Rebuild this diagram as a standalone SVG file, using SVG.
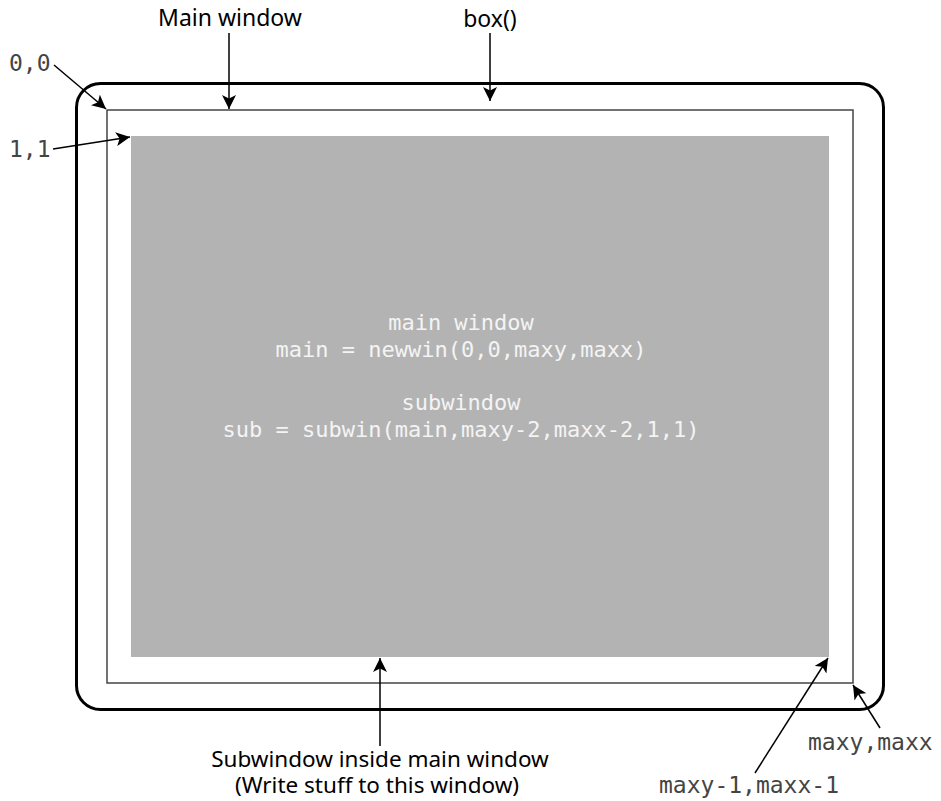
<svg xmlns="http://www.w3.org/2000/svg" width="941" height="801" viewBox="0 0 941 801">
<defs>
<marker id="ah" viewBox="0 0 10 10" refX="10" refY="5" markerWidth="14" markerHeight="14" markerUnits="userSpaceOnUse" orient="auto">
<path d="M0,0 L10,5 L0,10 L2.5,5 z" fill="#000"/>
</marker>
<style>
.lbl{font-family:"Noto Sans","Open Sans",sans-serif;font-size:23px;fill:#000}
.lbl2{font-family:"Noto Sans","Open Sans",sans-serif;font-size:22.5px;fill:#000}
.mono{font-family:"DejaVu Sans Mono","Liberation Mono",monospace;font-size:23px;fill:#444}
.code{font-family:"DejaVu Sans Mono","Liberation Mono",monospace;font-size:22px;fill:#f4f4f4}
.conn{stroke:#000;stroke-width:1.5;fill:none;marker-end:url(#ah)}
</style>
</defs>
<rect width="941" height="801" fill="#fff"/>
<g id="box">
<rect x="76.5" y="83.5" width="807" height="626" rx="24" ry="24" fill="none" stroke="#000" stroke-width="3"/>
</g>
<g id="main-window">
<rect x="107" y="110" width="746" height="573" fill="none" stroke="#444" stroke-width="1.5"/>
</g>
<g id="subwindow">
<rect x="131" y="136" width="698" height="521" fill="#b3b3b3"/>
<text class="code" text-anchor="middle" x="461" y="330">main window</text>
<text class="code" text-anchor="middle" x="461" y="357">main = newwin(0,0,maxy,maxx)</text>
<text class="code" text-anchor="middle" x="461" y="410">subwindow</text>
<text class="code" text-anchor="middle" x="461" y="437">sub = subwin(main,maxy-2,maxx-2,1,1)</text>
</g>
<g id="labels">
<text class="lbl" text-anchor="middle" x="230" y="26">Main window</text>
<text class="lbl" text-anchor="middle" x="490" y="27">box()</text>
<text class="mono" x="9" y="71">0,0</text>
<text class="mono" x="9" y="157">1,1</text>
<text class="mono" x="808" y="750">maxy,maxx</text>
<text class="mono" x="659" y="793">maxy-1,maxx-1</text>
<text class="lbl2" text-anchor="middle"><tspan x="380" y="767">Subwindow inside main window</tspan><tspan x="377" y="793">(Write stuff to this window)</tspan></text>
</g>
<g id="connectors">
<line class="conn" x1="54" y1="65" x2="106" y2="109"/>
<line class="conn" x1="53" y1="149" x2="130" y2="137"/>
<line class="conn" x1="229" y1="33" x2="229" y2="109"/>
<line class="conn" x1="490" y1="33" x2="490" y2="101"/>
<line class="conn" x1="380" y1="746" x2="380" y2="658"/>
<line class="conn" x1="880" y1="728" x2="853" y2="685"/>
<line class="conn" x1="755" y1="773" x2="828" y2="658"/>
</g>
</svg>
